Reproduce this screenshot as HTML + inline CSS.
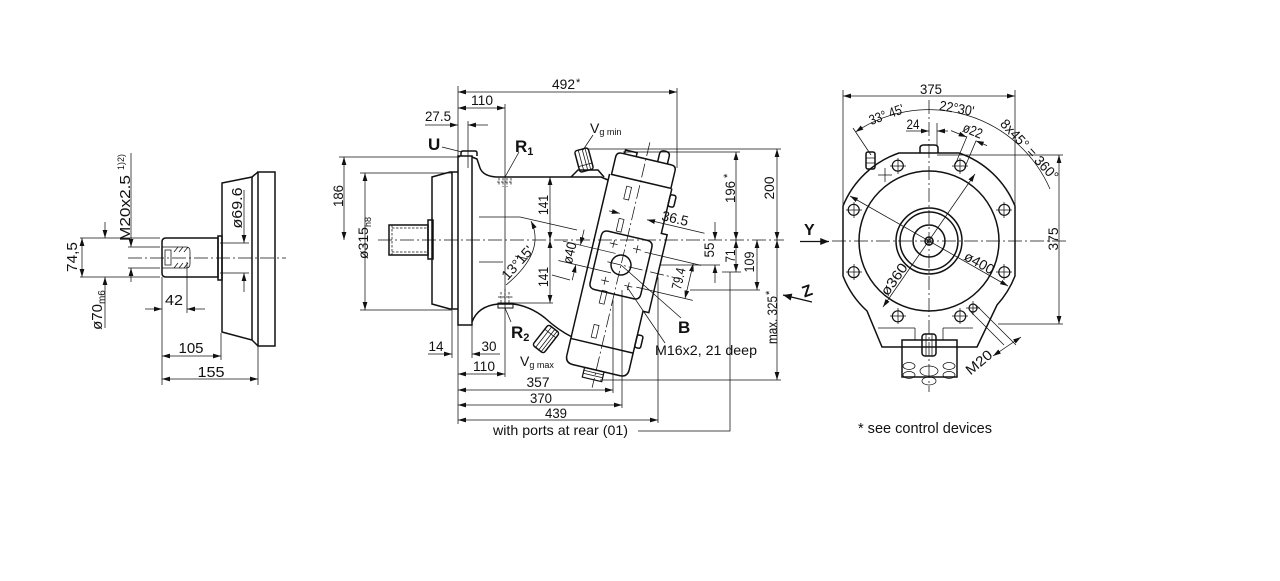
<!DOCTYPE html>
<html><head><meta charset="utf-8">
<style>
html,body{margin:0;padding:0;background:#fff;width:1280px;height:581px;overflow:hidden}
svg{display:block}
text{font-family:"Liberation Sans",Arial,sans-serif;fill:#111;stroke:none}
.o{stroke-width:1.5}
.t{stroke-width:0.75}
.c{stroke-width:0.75;stroke-dasharray:14 3 2 3}
.d{stroke-width:0.75;stroke-dasharray:2.5 1.5}
</style></head><body>
<svg width="1280" height="581" viewBox="0 0 1280 581" xmlns="http://www.w3.org/2000/svg">
<defs>
<marker id="a" viewBox="0 0 10 6" refX="10" refY="3" markerWidth="8" markerHeight="4.8" markerUnits="userSpaceOnUse" orient="auto-start-reverse"><path d="M0 0L10 3L0 6Z" fill="#111"/></marker>
<marker id="b" viewBox="0 0 10 8" refX="10" refY="4" markerWidth="10" markerHeight="7" markerUnits="userSpaceOnUse" orient="auto"><path d="M0 0L10 4L0 8Z" fill="#111"/></marker>
</defs>
<rect width="1280" height="581" fill="#fff"/>
<g fill="none" stroke="#111">

<!-- ================= LEFT VIEW ================= -->
<g class="o">
<rect x="258" y="172" width="17" height="174"/>
<path d="M258 172L252 177L222 183V332L252 340L258 346"/>
<path d="M252 177V340"/>
<rect x="218" y="236" width="4" height="44"/>
<path d="M166 238H218V277H166Q162 277 162 273V242Q162 238 166 238Z"/>
</g>
<g class="t">
<path d="M162 247H186Q190 247 190 251V264Q190 268 186 268H162"/>
<rect x="165" y="250" width="6" height="15"/>
<path d="M174 252L178 247M179 252L183 247M184 252L188 247M174 268L178 263M179 268L183 263M184 268L188 263"/>
<path d="M80 238H160M80 277H160"/>
<line x1="82" y1="238" x2="82" y2="277" marker-start="url(#a)" marker-end="url(#a)"/>
<path d="M105 222V238" marker-end="url(#a)"/>
<path d="M105 328V277" marker-end="url(#a)"/>
<path d="M128 247H160M128 268H160"/>
<path d="M131 153V247" marker-end="url(#a)"/>
<path d="M131 282V268" marker-end="url(#a)"/>
<path d="M220 243H249M220 273H249"/>
<path d="M244 190V243" marker-end="url(#a)"/>
<path d="M244 292V273" marker-end="url(#a)"/>
<path d="M187 262V313M162 277V385M221 333V360M258 346V385"/>
<path d="M145 309H162" marker-end="url(#a)"/>
<path d="M205 309H187" marker-end="url(#a)"/>
<line x1="162" y1="356" x2="221" y2="356" marker-start="url(#a)" marker-end="url(#a)"/>
<line x1="162" y1="379" x2="258" y2="379" marker-start="url(#a)" marker-end="url(#a)"/>
</g>
<path class="c" d="M128 258H286"/>

<!-- ================= MIDDLE VIEW ================= -->
<g class="o">
<rect x="389" y="225" width="39" height="30"/>
<rect x="428" y="220" width="5" height="39"/>
<path d="M458 172H450L432 177V304L450 309H458"/>
<path d="M452 172V309"/>
<rect x="458" y="156" width="14" height="169"/>
<path d="M461 156V153Q461 151 463 151H475Q477 151 477 153V156"/>
<path d="M472 157L477 159L480 168Q483 176 496 177H601L608 180"/>
<path d="M472 322Q478 306 498 304H513Q530 306 545 318Q558 330 572 337"/>
<rect x="498" y="303" width="15" height="5" stroke-width="1"/>
</g>
<path class="d" d="M392 228H428M392 252H428M392 225V255"/>
<path class="d" d="M499 178V186M503 178V187M507 178V187M511 178V186M497 182H513"/>
<path class="d" d="M501 292V303M505 289V303M509 292V303M498 297H513"/>
<path class="t" d="M479 217H520L577 230M479 262H503M552 275L570 280M515 256L528 259"/>
<path class="c" d="M378 240H784"/>

<!-- Vg min port -->
<g transform="translate(584 160) rotate(-15)">
<rect class="o" x="-7" y="-11" width="14" height="22" rx="2.5"/>
<path class="t" d="M-3 -11V11M1 -11V11M4 -11V11M-7 5H7"/>
</g>
<path class="o" d="M571 177L578 170H598L604 177"/>
<!-- Vg max port -->
<g transform="translate(546 339) rotate(38)">
<rect class="o" x="-7" y="-13" width="14" height="26" rx="2.5"/>
<path class="t" d="M-3 -13V13M1 -13V13M4 -13V13M-7 -7H7"/>
</g>

<!-- tilted control block -->
<g transform="translate(621 265) rotate(13.25)">
<g class="o">
<path d="M-32 -86V100Q-32 108 -24 108H24Q32 108 32 100V40H38V-40H32V-86"/>
<path d="M-30 -86V-104Q-30 -109 -25 -109H26Q31 -109 31 -104V-86Z"/>
<path d="M-32 83H32"/>
<path d="M-26 -24Q-26 -30 -20 -30H20Q26 -30 26 -24V24Q26 30 20 30H-20Q-26 30 -26 24Z"/>
<circle r="10"/>
<path d="M-22 -109V-113H-10V-109"/>
<path d="M12 -109V-117Q12 -121 17 -121Q22 -121 22 -117V-109"/>
<rect x="32" y="-80" width="6" height="12" rx="2"/>
<rect x="32" y="64" width="6" height="13" rx="2"/>
<rect x="-12" y="108" width="20" height="10" stroke-width="1.2"/>
</g>
<g class="t">
<rect x="-12.5" y="-78" width="5" height="13"/>
<rect x="-12.5" y="-45" width="5" height="13"/>
<rect x="-12.5" y="29" width="5" height="13"/>
<rect x="-12.5" y="64" width="5" height="13"/>
<path d="M-12 111H8M-12 114H8"/>
<path d="M-16 -19H-8M-12 -23V-15M8 -19H16M12 -23V-15M-16 19H-8M-12 15V23M8 19H16M12 15V23"/>
<path d="M20 -18H78M20 18H78"/>
<line x1="70" y1="-18" x2="70" y2="18" marker-start="url(#a)" marker-end="url(#a)"/>
<path d="M-24 -50H-13" marker-end="url(#a)"/>
<path d="M74 -50H15" marker-end="url(#a)"/>
<path d="M-62 -10H-8M-62 10H-8"/>
<path d="M-44 -26V-10" marker-end="url(#a)"/>
<path d="M-44 26V10" marker-end="url(#a)"/>
</g>
<path class="c" d="M0 -126V126M-14 0H60"/>
<text transform="translate(64 0) rotate(-90)" text-anchor="middle" font-size="14" textLength="22" lengthAdjust="spacingAndGlyphs">79.4</text>
<text x="42" y="-53" text-anchor="middle" font-size="14" textLength="27" lengthAdjust="spacingAndGlyphs">36.5</text>
<text transform="translate(-48 0) rotate(-90)" text-anchor="middle" font-size="14" textLength="22" lengthAdjust="spacingAndGlyphs">ø40</text>
</g>

<!-- middle thin dims -->
<g class="t">
<path d="M458 86V424M505 104V377M468 121V168M677 88V168"/>
<line x1="458" y1="92" x2="677" y2="92" marker-start="url(#a)" marker-end="url(#a)"/>
<line x1="458" y1="108" x2="505" y2="108" marker-start="url(#a)" marker-end="url(#a)"/>
<path d="M425 125H458" marker-end="url(#a)"/>
<path d="M488 125H468" marker-end="url(#a)"/>
<path d="M339 157H460M360 173H452M360 310H452"/>
<line x1="344" y1="157" x2="344" y2="240" marker-start="url(#a)" marker-end="url(#a)"/>
<line x1="365" y1="173" x2="365" y2="310" marker-start="url(#a)" marker-end="url(#a)"/>
<path d="M428 354H452" marker-end="url(#a)"/>
<path d="M500 354H472" marker-end="url(#a)"/>
<path d="M452 310V358M472 325V358"/>
<line x1="458" y1="374" x2="505" y2="374" marker-start="url(#a)" marker-end="url(#a)"/>
<line x1="458" y1="390" x2="613" y2="390" marker-start="url(#a)" marker-end="url(#a)"/>
<line x1="458" y1="405" x2="622" y2="405" marker-start="url(#a)" marker-end="url(#a)"/>
<line x1="458" y1="420" x2="658" y2="420" marker-start="url(#a)" marker-end="url(#a)"/>
<path d="M613 300V393M622 290V408M658 277V423M730 272V431H638"/>
<path d="M587 149H781M623 152H740M600 380H781"/>
<line x1="736" y1="152" x2="736" y2="240" marker-start="url(#a)" marker-end="url(#a)"/>
<line x1="777" y1="149" x2="777" y2="240" marker-start="url(#a)" marker-end="url(#a)"/>
<line x1="777" y1="240" x2="777" y2="380" marker-start="url(#a)" marker-end="url(#a)"/>
<path d="M715 222V240" marker-end="url(#a)"/>
<path d="M715 283V265" marker-end="url(#a)"/>
<path d="M660 265H720M722 272H741M690 290H760"/>
<line x1="736" y1="240" x2="736" y2="272" marker-start="url(#a)" marker-end="url(#a)"/>
<line x1="757" y1="240" x2="757" y2="290" marker-start="url(#a)" marker-end="url(#a)"/>
<line x1="550" y1="177" x2="550" y2="240" marker-start="url(#a)" marker-end="url(#a)"/>
<line x1="550" y1="240" x2="550" y2="303" marker-start="url(#a)" marker-end="url(#a)"/>
<path d="M513 303H553"/>
<path d="M531 221Q546 252 506 285" marker-start="url(#a)"/>
<path d="M442 147L462 152M519 152L505 177M505 308L511 322M593 135L583 150M621 265L681 318M627 287L665 343"/>
</g>

<!-- ================= RIGHT VIEW ================= -->
<g class="o">
<path d="M843 206A93 93 0 0 1 899 153H959A93 93 0 0 1 1015 206V276A93 93 0 0 1 997 305L977 347H882L867 311A93 93 0 0 1 843 276Z"/>
<circle cx="929" cy="241" r="70"/>
<circle cx="929" cy="241" r="33"/>
<circle cx="929" cy="241" r="29"/>
<circle cx="929" cy="241" r="16"/>
<circle cx="929" cy="241" r="4"/>
<path d="M920 153V148Q920 145 924 145H934Q938 145 938 148V153"/>
<rect x="866" y="152" width="9" height="17" rx="2"/>
<rect x="902" y="340" width="55" height="37"/>
<rect x="922" y="334" width="14" height="22" rx="3"/>
</g>
<g class="t">
<circle cx="929" cy="241" r="2"/>
<path d="M878 328H915M943 328H973M915 328V340M943 328V340M926 334V356M932 334V356"/>
<ellipse cx="909" cy="366" rx="6" ry="3.5"/>
<ellipse cx="909" cy="375" rx="6" ry="3.5"/>
<ellipse cx="949" cy="366" rx="6" ry="3.5"/>
<ellipse cx="949" cy="375" rx="6" ry="3.5"/>
<ellipse cx="929" cy="371" rx="9" ry="5"/>
<ellipse cx="929" cy="381" rx="7" ry="4"/>
<path d="M866 158H875M866 163H875"/>
<g stroke-width="1.2">
<circle cx="1004.3" cy="272.2" r="5.5"/><circle cx="960.2" cy="316.3" r="5.5"/>
<circle cx="897.8" cy="316.3" r="5.5"/><circle cx="853.7" cy="272.2" r="5.5"/>
<circle cx="853.7" cy="209.8" r="5.5"/><circle cx="897.8" cy="165.7" r="5.5"/>
<circle cx="960.2" cy="165.7" r="5.5"/><circle cx="1004.3" cy="209.8" r="5.5"/>
<circle cx="973" cy="308" r="4"/>
</g>
<path d="M996 272H1012M1004 264V280M952 316H968M960 308V324M890 316H906M898 308V324M846 272H862M854 264V280M846 210H862M854 202V218M890 166H906M898 158V174M952 166H968M960 158V174M996 210H1012M1004 202V218M966 308H980M973 301V315"/>
<path d="M878 175H892M885 168V182"/>
<path d="M843 90V206M1015 90V206"/>
<line x1="843" y1="96" x2="1015" y2="96" marker-start="url(#a)" marker-end="url(#a)"/>
<path d="M937 155H1063M998 324H1063"/>
<line x1="1059" y1="155" x2="1059" y2="324" marker-start="url(#a)" marker-end="url(#a)"/>
<path d="M906 131H929" marker-end="url(#a)"/>
<path d="M948 131H937" marker-end="url(#a)"/>
<path d="M937 123V146"/>
<path d="M855.5 132A132 132 0 0 1 1050 189" marker-start="url(#a)"/>
<path d="M871 155L853 128"/>
<path d="M955.4 164.1L967 136.4M964.6 167.9L976 140.8"/>
<path d="M951 130.6L966.6 137" marker-end="url(#a)"/>
<path d="M987 145.6L975.8 140.8" marker-end="url(#a)"/>
<line x1="850" y1="196" x2="1008" y2="286" marker-start="url(#a)" marker-end="url(#a)"/>
<line x1="883" y1="307" x2="975" y2="174" marker-start="url(#a)" marker-end="url(#a)"/>
<path d="M976 305L1016 345M970 311L1004 345"/>
<line x1="993" y1="356" x2="1021" y2="337" marker-start="url(#a)" marker-end="url(#a)"/>
</g>
<path class="c" d="M929 100V392M832 241H1068"/>
<path d="M800 241.5H829" stroke-width="1.3" marker-end="url(#b)"/>
<path d="M812 302L783 295" stroke-width="1.3" marker-end="url(#b)"/>
</g>

<!-- ================= TEXT ================= -->
<g font-size="15">
<text transform="translate(77 257) rotate(-90)" text-anchor="middle" textLength="30" lengthAdjust="spacingAndGlyphs">74,5</text>
<text transform="translate(102 310) rotate(-90)" text-anchor="middle">ø70<tspan font-size="10" dy="3">m6</tspan></text>
<text transform="translate(130 241) rotate(-90)" textLength="66" lengthAdjust="spacingAndGlyphs">M20x2.5</text>
<text transform="translate(124 170) rotate(-90)" font-size="9">1)2)</text>
<text transform="translate(242 208) rotate(-90)" text-anchor="middle" textLength="41" lengthAdjust="spacingAndGlyphs">ø69.6</text>
<text x="174" y="305" text-anchor="middle" textLength="18" lengthAdjust="spacingAndGlyphs">42</text>
<text x="191" y="353" text-anchor="middle" textLength="25" lengthAdjust="spacingAndGlyphs">105</text>
<text x="211" y="377" text-anchor="middle" textLength="27" lengthAdjust="spacingAndGlyphs">155</text>
</g>

<g font-size="14">
<text x="563.5" y="89" text-anchor="middle" textLength="23" lengthAdjust="spacingAndGlyphs">492</text>
<text x="576" y="86" font-size="11">*</text>
<text x="482" y="105" text-anchor="middle" textLength="22" lengthAdjust="spacingAndGlyphs">110</text>
<text x="438" y="121" text-anchor="middle" textLength="26" lengthAdjust="spacingAndGlyphs">27.5</text>
<text x="428" y="150" font-size="17" font-weight="bold">U</text>
<text x="515" y="152" font-size="17" font-weight="bold">R<tspan font-size="11" dy="3">1</tspan></text>
<text x="511" y="338" font-size="17" font-weight="bold">R<tspan font-size="11" dy="3">2</tspan></text>
<text transform="translate(343 196) rotate(-90)" text-anchor="middle" textLength="22" lengthAdjust="spacingAndGlyphs">186</text>
<text transform="translate(368 238) rotate(-90)" text-anchor="middle">ø315<tspan font-size="9" dy="3">h8</tspan></text>
<text transform="translate(548 205) rotate(-90)" text-anchor="middle" textLength="20" lengthAdjust="spacingAndGlyphs">141</text>
<text transform="translate(548 277) rotate(-90)" text-anchor="middle" textLength="20" lengthAdjust="spacingAndGlyphs">141</text>
<text transform="translate(521 266) rotate(-48)" text-anchor="middle" textLength="40" lengthAdjust="spacingAndGlyphs">13°15'</text>
<text x="590" y="133">V<tspan font-size="9" dy="2">g min</tspan></text>
<text x="520" y="366">V<tspan font-size="9" dy="2">g max</tspan></text>
<text transform="translate(735 192) rotate(-90)" text-anchor="middle" textLength="22" lengthAdjust="spacingAndGlyphs">196</text>
<text transform="translate(731 178) rotate(-90)" font-size="11">*</text>
<text transform="translate(774 188) rotate(-90)" text-anchor="middle" textLength="23" lengthAdjust="spacingAndGlyphs">200</text>
<text transform="translate(714 250) rotate(-90)" text-anchor="middle" textLength="15" lengthAdjust="spacingAndGlyphs">55</text>
<text transform="translate(735 256) rotate(-90)" text-anchor="middle" textLength="13" lengthAdjust="spacingAndGlyphs">71</text>
<text transform="translate(754 262) rotate(-90)" text-anchor="middle" textLength="21" lengthAdjust="spacingAndGlyphs">109</text>
<text transform="translate(777 320) rotate(-90)" text-anchor="middle" textLength="48" lengthAdjust="spacingAndGlyphs">max. 325</text>
<text transform="translate(773 295) rotate(-90)" font-size="11">*</text>
<text x="678" y="333" font-size="17" font-weight="bold">B</text>
<text x="655" y="355" textLength="102" lengthAdjust="spacingAndGlyphs">M16x2, 21 deep</text>
<text x="436" y="351" text-anchor="middle" textLength="15" lengthAdjust="spacingAndGlyphs">14</text>
<text x="489" y="351" text-anchor="middle" textLength="15" lengthAdjust="spacingAndGlyphs">30</text>
<text x="484" y="371" text-anchor="middle" textLength="22" lengthAdjust="spacingAndGlyphs">110</text>
<text x="538" y="387" text-anchor="middle" textLength="23" lengthAdjust="spacingAndGlyphs">357</text>
<text x="541" y="403" text-anchor="middle" textLength="22" lengthAdjust="spacingAndGlyphs">370</text>
<text x="556" y="418" text-anchor="middle" textLength="22" lengthAdjust="spacingAndGlyphs">439</text>
<text x="493" y="435" textLength="135" lengthAdjust="spacingAndGlyphs">with ports at rear (01)</text>

<text x="931" y="94" text-anchor="middle" textLength="22" lengthAdjust="spacingAndGlyphs">375</text>
<text transform="translate(888 119) rotate(-20)" text-anchor="middle" textLength="36" lengthAdjust="spacingAndGlyphs">33° 45'</text>
<text transform="translate(956 113) rotate(10)" text-anchor="middle" textLength="35" lengthAdjust="spacingAndGlyphs">22°30'</text>
<text x="913" y="129" text-anchor="middle" textLength="13" lengthAdjust="spacingAndGlyphs">24</text>
<text transform="translate(971 135) rotate(22)" text-anchor="middle" textLength="20" lengthAdjust="spacingAndGlyphs">ø22</text>
<text transform="translate(1026 153) rotate(47)" text-anchor="middle" textLength="78" lengthAdjust="spacingAndGlyphs">8x45° = 360°</text>
<text transform="translate(1058 239) rotate(-90)" text-anchor="middle" textLength="23" lengthAdjust="spacingAndGlyphs">375</text>
<text transform="translate(898 282) rotate(-55)" text-anchor="middle" textLength="36" lengthAdjust="spacingAndGlyphs">ø360</text>
<text transform="translate(977 267) rotate(29)" text-anchor="middle" textLength="32" lengthAdjust="spacingAndGlyphs">ø400</text>
<text transform="translate(982 366) rotate(-40)" text-anchor="middle" textLength="30" lengthAdjust="spacingAndGlyphs">M20</text>
<text x="804" y="235" font-size="16" font-weight="bold">Y</text>
<text transform="translate(809 296) rotate(-20)" text-anchor="middle" font-size="16" font-weight="bold">Z</text>
<text x="858" y="433" font-size="14.5" textLength="134" lengthAdjust="spacingAndGlyphs">* see control devices</text>
</g>
</svg>
</body></html>
